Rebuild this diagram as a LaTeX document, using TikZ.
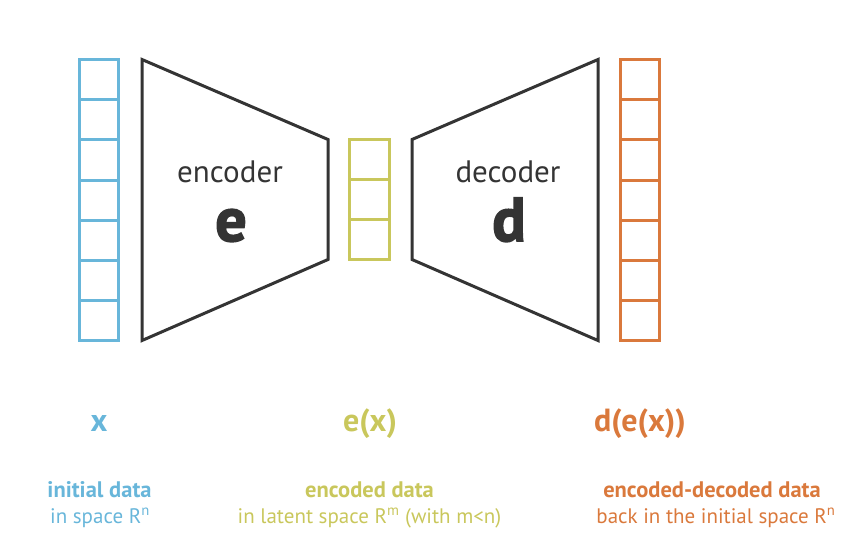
\documentclass[tikz,border=0pt]{standalone}
\usepackage{fontspec}
\setmainfont{PT Sans}
\newfontfamily\heavyfont[BoldFeatures={FakeBold=2.5}]{PT Sans}
\usepackage{tikz}
\usetikzlibrary{positioning}
\definecolor{inblue}{RGB}{104,182,218}
\definecolor{latyellow}{RGB}{201,199,92}
\definecolor{outorange}{RGB}{218,121,60}
\definecolor{netgray}{RGB}{52,52,52}

\begin{document}
\begin{tikzpicture}[x=1pt, y=-1pt,
    cell/.style={rectangle, draw, line width=3pt, minimum width=39pt,
                 minimum height=40.2pt, inner sep=0pt},
    net/.style={draw=netgray, line width=3pt, line join=miter},
    netname/.style={netgray, anchor=base, font=\fontsize{31}{36}\selectfont},
    netletter/.style={netgray, anchor=base, font=\fontsize{62}{70}\selectfont\heavyfont\bfseries},
    vecname/.style={anchor=base, font=\fontsize{32}{36}\selectfont\bfseries},
    capt/.style={anchor=base, font=\fontsize{22.5}{26}\selectfont\bfseries},
    note/.style={anchor=base, font=\fontsize{21}{25}\selectfont}
]
\useasboundingbox (0,0) rectangle (857,558);

% input vector x
\node[cell, draw=inblue] (in1) at (99,79.6)  {};
\node[cell, draw=inblue] (in2) at (99,119.8) {};
\node[cell, draw=inblue] (in3) at (99,160.0) {};
\node[cell, draw=inblue] (in4) at (99,200.2) {};
\node[cell, draw=inblue] (in5) at (99,240.4) {};
\node[cell, draw=inblue] (in6) at (99,280.6) {};
\node[cell, draw=inblue] (in7) at (99,320.8) {};

% encoder
\draw[net] (142,59.5) -- (328,139.5) -- (328,259.5) -- (142,340.5) -- cycle;
\node[netname] (encname) at (230,182) {encoder};
\node[netletter] (enc) at (231,241) {e};

% latent vector e(x)
\node[cell, draw=latyellow, minimum width=40pt, minimum height=39.8pt] (lat1) at (369.5,159.7) {};
\node[cell, draw=latyellow, minimum width=40pt, minimum height=39.8pt] (lat2) at (369.5,199.5) {};
\node[cell, draw=latyellow, minimum width=40pt, minimum height=39.8pt] (lat3) at (369.5,239.3) {};

% decoder
\draw[net] (412,139.5) -- (598,59.5) -- (598,340.5) -- (412,259.5) -- cycle;
\node[netname] (decname) at (508,182) {decoder};
\node[netletter] (dec) at (509,241) {d};

% output vector d(e(x))
\node[cell, draw=outorange] (out1) at (640,79.6)  {};
\node[cell, draw=outorange] (out2) at (640,119.8) {};
\node[cell, draw=outorange] (out3) at (640,160.0) {};
\node[cell, draw=outorange] (out4) at (640,200.2) {};
\node[cell, draw=outorange] (out5) at (640,240.4) {};
\node[cell, draw=outorange] (out6) at (640,280.6) {};
\node[cell, draw=outorange] (out7) at (640,320.8) {};

% labels
\node[vecname, inblue]    (xlbl)   at (99,431)  {x};
\node[vecname, latyellow] (exlbl)  at (370,431) {e(x)};
\node[vecname, outorange] (dexlbl) at (640,431) {d(e(x))};

\node[capt, inblue]    (incapt)  at (99.5,497) {initial data};
\node[note, inblue]    (innote)  at (100,523)  {in space R\textsuperscript{n}};
\node[capt, latyellow] (latcapt) at (369.5,497) {encoded data};
\node[note, latyellow] (latnote) at (369.5,523) {in latent space R\textsuperscript{m} (with m<n)};
\node[capt, outorange] (outcapt) at (712,497) {encoded-decoded data};
\node[note, outorange] (outnote) at (716,523) {back in the initial space R\textsuperscript{n}};
\end{tikzpicture}
\end{document}
